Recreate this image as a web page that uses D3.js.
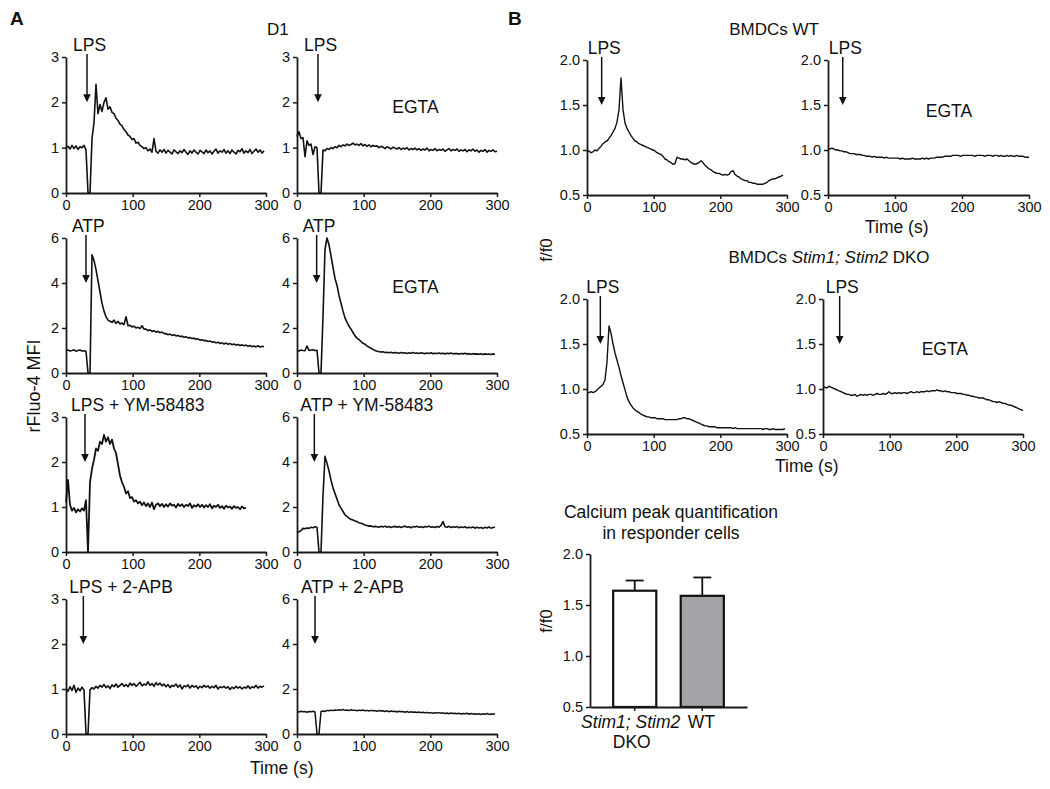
<!DOCTYPE html>
<html><head><meta charset="utf-8">
<script src="https://cdn.jsdelivr.net/npm/d3@7"></script>
<style>
body{margin:0;background:#fff;}
svg{display:block;}
</style></head><body>
<svg id="chart" width="1050" height="789"></svg>
<script>
// ---------------- DATA ----------------
const timeGrid = [0,3,6,9,12,15,18,21,24,27,
30,33,36,39,42,45,48,51,54,57,
60,63,66,69,72,75,78,81,84,87,
90,93,96,99,102,105,108,111,114,117,
120,123,126,129,132,135,138,141,144,147,
150,153,156,159,162,165,168,171,174,177,
180,183,186,189,192,195,198,201,204,207,
210,213,216,219,222,225,228,231,234,237,
240,243,246,249,252,255,258,261,264,267,
270,273,276,279,282,285,288,291,294,297,
300];
const timeTicks = [0,100,200,300];

const lpsD1 = [1.00,1.03,0.97,1.05,0.98,1.04,0.96,1.02,1.00,1.05,
0.95,0,0,1.20,1.55,2.40,1.75,1.95,1.80,2.00,
2.10,1.85,1.90,1.78,1.75,1.65,1.60,1.52,1.48,1.40,
1.35,1.28,1.25,1.18,1.20,1.10,1.12,1.05,1.02,0.98,
1.00,0.93,0.97,0.90,1.20,0.92,0.88,0.95,0.90,0.96,
0.88,0.94,0.90,0.86,0.95,0.91,0.87,0.93,0.89,0.96,
0.90,0.85,0.93,0.88,0.95,0.90,0.86,0.94,0.91,0.87,
0.95,0.89,0.93,0.86,0.92,0.97,0.88,0.93,0.90,0.96,
0.88,0.93,0.87,0.95,0.90,0.86,0.94,0.91,0.98,0.88,
0.93,0.89,0.96,0.87,0.92,0.97,0.90,0.95,0.88,0.93,
null];
const lpsEgtaD1 = [1.25,1.35,1.20,1.22,0.80,1.15,1.05,1.08,0.85,1.02,
1.00,0,0,0.95,0.93,0.98,0.96,1.00,0.98,1.02,
1.00,1.05,1.02,1.06,1.04,1.08,1.05,1.07,1.10,1.06,
1.08,1.05,1.09,1.04,1.07,1.03,1.06,1.02,1.05,1.03,
1.04,1.00,1.03,1.01,0.98,1.02,1.00,0.97,1.01,0.99,
0.97,1.00,0.96,0.99,0.97,1.00,0.95,0.98,0.96,0.99,
0.95,0.98,0.94,0.97,0.95,0.99,0.93,0.96,0.94,0.98,
0.93,0.96,0.94,0.97,0.92,0.95,0.98,0.93,0.96,0.94,
0.97,0.92,0.95,0.93,0.96,0.91,0.95,0.93,0.97,0.92,
0.95,0.90,0.94,0.92,0.96,0.90,0.94,0.92,0.95,0.91,
0.92];
const atpD1 = [1.00,1.02,0.98,1.00,1.03,0.97,1.00,1.02,0.98,0.99,
0.97,0,0,5.25,5.00,4.60,4.10,3.60,3.10,2.75,
2.50,2.35,2.30,2.25,2.35,2.20,2.30,2.18,2.22,2.15,
2.50,2.10,2.12,2.05,2.08,2.00,2.03,1.98,2.10,1.95,
1.95,1.88,1.92,1.85,1.88,1.82,1.85,1.79,1.82,1.76,
1.74,1.70,1.73,1.67,1.70,1.65,1.67,1.62,1.64,1.59,
1.61,1.56,1.58,1.53,1.55,1.50,1.52,1.46,1.48,1.44,
1.45,1.40,1.42,1.37,1.39,1.34,1.37,1.31,1.34,1.29,
1.33,1.28,1.31,1.26,1.29,1.24,1.27,1.22,1.25,1.21,
1.24,1.19,1.22,1.17,1.20,1.16,1.21,1.15,1.19,1.17,
null];
const atpEgtaD1 = [1.00,0.98,1.02,1.00,0.99,1.20,1.00,1.02,1.03,1.00,
1.01,0,0,2.50,5.50,6.00,5.70,5.20,4.70,4.20,
3.90,3.45,3.10,2.75,2.45,2.25,2.08,1.95,1.80,1.65,
1.55,1.48,1.40,1.32,1.28,1.20,1.15,1.10,1.05,1.00,
0.97,0.95,0.93,0.94,0.91,0.92,0.90,0.92,0.89,0.91,
0.90,0.88,0.91,0.89,0.90,0.87,0.90,0.88,0.91,0.88,
0.89,0.87,0.90,0.88,0.86,0.89,0.87,0.90,0.86,0.88,
0.87,0.89,0.86,0.88,0.85,0.88,0.86,0.89,0.85,0.87,
0.86,0.84,0.87,0.85,0.88,0.84,0.86,0.83,0.86,0.84,
0.85,0.83,0.86,0.82,0.85,0.83,0.84,0.82,0.85,0.82,
null];
const lpsYmD1 = [1.10,1.60,1.05,0.92,0.98,0.88,0.95,0.90,0.97,0.92,
1.15,0,1.55,1.85,2.05,2.30,2.25,2.45,2.40,2.60,
2.45,2.55,2.40,2.50,2.30,2.20,1.95,1.70,1.55,1.45,
1.30,1.35,1.20,1.22,1.12,1.15,1.08,1.12,1.04,1.10,
1.02,1.08,1.00,1.10,0.95,1.05,1.08,1.02,1.07,1.00,
1.06,1.01,1.08,1.03,1.05,0.99,1.07,1.02,1.06,1.00,
1.05,1.02,1.08,0.98,1.04,1.01,1.06,1.00,1.05,0.99,
1.04,1.00,1.06,0.97,1.03,1.00,1.05,0.98,1.02,0.96,
1.03,0.99,1.01,0.96,1.02,0.98,1.00,0.95,1.01,0.97,
0.98,null,null,null,null,null,null,null,null,null,
null];
const atpYmD1 = [0.86,0.90,0.95,1.05,1.03,1.07,1.05,1.10,1.08,1.12,
1.10,0,0,2.50,4.25,3.95,3.60,3.20,2.85,2.60,
2.35,2.10,1.95,1.80,1.65,1.58,1.50,1.45,1.42,1.38,
1.35,1.30,1.28,1.24,1.20,1.18,1.15,1.16,1.12,1.14,
1.12,1.10,1.14,1.11,1.15,1.10,1.13,1.09,1.12,1.14,
1.10,1.13,1.09,1.12,1.15,1.10,1.12,1.08,1.13,1.11,
1.14,1.10,1.12,1.09,1.13,1.11,1.15,1.10,1.12,1.09,
1.13,1.10,1.18,1.35,1.12,1.10,1.14,1.09,1.12,1.10,
1.13,1.08,1.11,1.09,1.12,1.07,1.10,1.08,1.11,1.06,
1.10,1.07,1.09,1.05,1.10,1.07,1.11,1.06,1.09,1.10,
null];
const lps2apbD1 = [1.00,0.95,1.05,0.97,1.08,0.93,1.02,0.96,1.04,0.98,
0,0,0.98,1.03,1.00,1.06,1.02,1.08,1.04,1.10,
1.03,1.07,1.01,1.09,1.05,1.11,1.04,1.08,1.12,1.06,
1.10,1.05,1.13,1.08,1.12,1.06,1.10,1.15,1.07,1.11,
1.09,1.16,1.08,1.12,1.06,1.14,1.09,1.13,1.07,1.11,
1.05,1.10,1.03,1.08,1.06,1.11,1.04,1.09,1.00,1.07,
1.05,1.09,1.02,1.08,1.04,1.07,1.01,1.06,1.03,1.08,
1.04,1.07,1.02,1.06,1.03,1.08,1.00,1.05,1.03,1.06,
1.02,1.05,0.99,1.04,1.01,1.06,1.02,1.05,1.00,1.04,
1.02,1.07,1.01,1.05,1.03,1.08,1.02,1.06,1.04,1.07,
null];
const atp2apbD1 = [1.00,0.98,1.01,0.99,1.00,0.97,1.00,0.99,1.01,0.98,
0,0,1.00,1.02,1.00,1.05,1.03,1.06,1.04,1.07,
1.05,1.08,1.06,1.09,1.05,1.07,1.04,1.08,1.05,1.06,
1.03,1.06,1.04,1.07,1.03,1.05,1.02,1.05,1.03,1.04,
1.01,1.04,1.02,1.03,1.00,1.03,0.99,1.02,1.00,1.01,
0.98,1.01,0.99,1.00,0.97,1.00,0.96,0.99,0.97,0.98,
0.96,0.98,0.95,0.97,0.94,0.96,0.93,0.95,0.92,0.95,
0.93,0.95,0.92,0.94,0.91,0.93,0.90,0.93,0.91,0.92,
0.90,0.92,0.89,0.91,0.90,0.92,0.88,0.91,0.89,0.90,
0.88,0.90,0.87,0.90,0.88,0.91,0.87,0.89,0.88,0.90,
null];

const wtLps = [0.98,0.99,0.97,0.98,1.00,0.99,1.02,1.04,1.07,1.09,
1.10,1.13,1.16,1.20,1.24,1.31,1.45,1.80,1.45,1.30,
1.24,1.20,1.16,1.13,1.10,1.09,1.07,1.06,1.05,1.04,
1.03,1.02,1.01,1.00,0.99,0.97,0.96,0.95,0.93,0.90,
0.89,0.87,0.86,0.84,0.85,0.92,0.91,0.90,0.90,0.89,
0.90,0.88,0.86,0.85,0.84,0.85,0.86,0.88,0.86,0.83,
0.81,0.79,0.78,0.76,0.75,0.74,0.74,0.73,0.72,0.73,
0.72,0.73,0.76,0.77,0.73,0.71,0.70,0.68,0.67,0.66,
0.66,0.64,0.64,0.63,0.63,0.62,0.62,0.62,0.62,0.63,
0.64,0.66,0.67,0.68,0.68,0.69,0.70,0.71,0.72,null,
null];
const wtEgta = [1.02,1.01,1.02,1.01,1.00,1.00,0.99,0.99,0.98,0.98,
0.97,0.96,0.96,0.96,0.95,0.95,0.95,0.94,0.94,0.93,
0.93,0.93,0.92,0.93,0.92,0.92,0.92,0.92,0.91,0.92,
0.91,0.91,0.91,0.91,0.91,0.91,0.90,0.91,0.90,0.90,
0.90,0.90,0.91,0.90,0.90,0.90,0.90,0.91,0.90,0.91,
0.90,0.91,0.91,0.91,0.92,0.92,0.92,0.92,0.93,0.93,
0.93,0.93,0.94,0.94,0.94,0.94,0.93,0.94,0.94,0.94,
0.94,0.94,0.94,0.93,0.94,0.94,0.94,0.94,0.93,0.94,
0.94,0.94,0.93,0.94,0.94,0.93,0.94,0.93,0.93,0.94,
0.93,0.94,0.93,0.93,0.94,0.93,0.93,0.93,0.92,0.92,
0.92];
const dkoLps = [0.96,0.96,0.97,0.96,0.97,0.99,1.01,1.03,1.05,1.10,
1.30,1.70,1.62,1.50,1.40,1.32,1.24,1.15,1.07,0.99,
0.91,0.86,0.82,0.79,0.77,0.75,0.74,0.72,0.71,0.70,
0.69,0.69,0.68,0.68,0.68,0.67,0.67,0.67,0.67,0.66,
0.66,0.66,0.66,0.66,0.66,0.66,0.67,0.67,0.68,0.68,
0.67,0.67,0.66,0.65,0.64,0.63,0.62,0.61,0.60,0.59,
0.59,0.58,0.58,0.58,0.58,0.57,0.57,0.57,0.57,0.57,
0.57,0.57,0.57,0.56,0.57,0.56,0.56,0.56,0.56,0.56,
0.56,0.56,0.56,0.56,0.56,0.56,0.56,0.56,0.55,0.56,
0.56,0.55,0.55,0.56,0.55,0.55,0.55,0.55,0.55,0.56,
null];
const dkoEgta = [1.01,1.02,1.01,1.03,1.02,1.01,1.00,0.99,0.98,0.97,
0.96,0.95,0.94,0.94,0.93,0.93,0.94,0.92,0.93,0.94,
0.93,0.94,0.93,0.94,0.94,0.93,0.94,0.95,0.94,0.94,
0.95,0.94,0.95,0.97,0.95,0.95,0.96,0.95,0.96,0.95,
0.96,0.96,0.95,0.96,0.97,0.96,0.96,0.97,0.96,0.97,
0.97,0.97,0.98,0.97,0.98,0.98,0.98,0.99,0.98,0.98,
0.97,0.98,0.97,0.97,0.96,0.96,0.96,0.95,0.95,0.95,
0.94,0.94,0.93,0.93,0.92,0.92,0.91,0.91,0.90,0.90,
0.90,0.89,0.88,0.88,0.87,0.86,0.86,0.85,0.86,0.85,
0.84,0.84,0.83,0.82,0.82,0.81,0.80,0.79,0.78,0.77,
0.76];

const barCategories = ["Stim1; Stim2 DKO", "WT"];
const barMeans = [1.64, 1.59];
const barErrors = [0.10, 0.18];
const barTicks = [0.5, 1.0, 1.5, 2.0];

// ---------------- DRAW ----------------
const FONT = '"Liberation Sans", Arial, Helvetica, sans-serif';
const INK = "#111";
const svg = d3.select("#chart").style("font-family", FONT);

function styleAxis(g) {
  g.selectAll(".domain").attr("stroke", "#1a1a1a").attr("stroke-width", 1.8);
  g.selectAll(".tick line").attr("stroke", "#1a1a1a").attr("stroke-width", 1.5);
  g.selectAll(".tick text").attr("fill", INK).style("font-size", "14.5px").style("font-family", FONT);
}
function txt(x, y, s, size, opts = {}) {
  const t = svg.append("text").attr("x", x).attr("y", y).attr("fill", INK)
    .style("font-size", size + "px").style("font-family", FONT)
    .attr("text-anchor", opts.anchor || "start");
  if (opts.bold) t.style("font-weight", "bold");
  if (opts.rotate) t.attr("transform", `rotate(-90,${x},${y})`);
  if (s !== null) t.text(s);
  return t;
}

const A3 = {dom: [0, 3], ticks: [0, 1, 2, 3], fmt: "d"};
const A6 = {dom: [0, 6], ticks: [0, 2, 4, 6], fmt: "d"};
const BS = {dom: [0.5, 2.0], ticks: [0.5, 1.0, 1.5, 2.0], fmt: ".1f"};

const panels = [
  {x0: 66, x1: 266, y0: 57, y1: 193, s: A3, v: lpsD1, label: "LPS", aT: 31.5, aV: 2, w: 1.6},
  {x0: 297, x1: 497, y0: 57, y1: 193, s: A3, v: lpsEgtaD1, label: "LPS", aT: 31.5, aV: 2, note: [143, 1.76], w: 1.6},
  {x0: 66, x1: 266, y0: 238, y1: 373, s: A6, v: atpD1, label: "ATP", aT: 30, aV: 4, w: 1.6},
  {x0: 297, x1: 497, y0: 238, y1: 373, s: A6, v: atpEgtaD1, label: "ATP", aT: 29.5, aV: 4, note: [143, 3.55], w: 1.6},
  {x0: 66, x1: 266, y0: 417, y1: 552, s: A3, v: lpsYmD1, label: "LPS + YM-58483", aT: 28.5, aV: 2, w: 1.8},
  {x0: 297, x1: 497, y0: 417, y1: 552, s: A6, v: atpYmD1, label: "ATP + YM-58483", aT: 26, aV: 4, w: 1.6},
  {x0: 66, x1: 266, y0: 599, y1: 734, s: A3, v: lps2apbD1, label: "LPS + 2-APB", aT: 26, aV: 2, w: 1.6},
  {x0: 297, x1: 497, y0: 599, y1: 734, s: A6, v: atp2apbD1, label: "ATP + 2-APB", aT: 27, aV: 4, w: 1.5},
  {x0: 587, x1: 787, y0: 60, y1: 195, s: BS, v: wtLps, label: "LPS", aT: 22, aV: 1.5, w: 1.4},
  {x0: 828, x1: 1029, y0: 60, y1: 195, s: BS, v: wtEgta, label: "LPS", aT: 22, aV: 1.5, note: [146, 1.37], w: 1.4},
  {x0: 587, x1: 787, y0: 299, y1: 434, s: BS, v: dkoLps, label: "LPS", aT: 20, aV: 1.5, w: 1.4},
  {x0: 823, x1: 1023, y0: 299, y1: 434, s: BS, v: dkoEgta, label: "LPS", aT: 25, aV: 1.5, note: [148, 1.38], w: 1.4}
];

panels.forEach(p => {
  const x = d3.scaleLinear().domain([0, 300]).range([p.x0, p.x1]);
  const y = d3.scaleLinear().domain(p.s.dom).range([p.y1, p.y0]);
  const gx = svg.append("g").attr("transform", `translate(0,${p.y1})`)
    .call(d3.axisBottom(x).tickValues(timeTicks).tickSize(4).tickSizeOuter(0).tickPadding(3));
  styleAxis(gx);
  const gy = svg.append("g").attr("transform", `translate(${p.x0},0)`)
    .call(d3.axisLeft(y).tickValues(p.s.ticks).tickFormat(d3.format(p.s.fmt)).tickSize(4).tickSizeOuter(0).tickPadding(3));
  styleAxis(gy);
  const line = d3.line().defined(d => d[1] !== null && d[1] !== undefined)
    .x(d => x(d[0])).y(d => y(d[1]));
  svg.append("path").datum(d3.zip(timeGrid, p.v)).attr("d", line)
    .attr("fill", "none").attr("stroke", INK).attr("stroke-width", p.w)
    .attr("stroke-linejoin", "round");
  // stimulus arrow
  const ax = x(p.aT), top = y(p.s.dom[1]) - 3, tip = y(p.aV);
  svg.append("line").attr("x1", ax).attr("x2", ax).attr("y1", top).attr("y2", tip - 6)
    .attr("stroke", INK).attr("stroke-width", 1.5);
  svg.append("path").attr("d", `M${ax - 3.8},${tip - 8}L${ax + 3.8},${tip - 8}L${ax},${tip}Z`).attr("fill", INK);
  txt(ax - 14, y(p.s.dom[1]) - 6, p.label, 17.5);
  if (p.note) txt(x(p.note[0]), y(p.note[1]), "EGTA", 17.5);
});

// Panel letters and titles
txt(10, 25, "A", 19, {bold: true});
txt(508, 25, "B", 19, {bold: true});
txt(267, 35, "D1", 17);
txt(774, 35, "BMDCs WT", 17, {anchor: "middle"});
const t2 = txt(829, 263, null, 17, {anchor: "middle"});
t2.append("tspan").text("BMDCs ");
t2.append("tspan").style("font-style", "italic").text("Stim1; Stim2");
t2.append("tspan").text(" DKO");

// axis titles
txt(250, 774, "Time (s)", 17.5);
txt(865, 233, "Time (s)", 17.5);
txt(775, 472, "Time (s)", 17.5);
txt(34, 386, "rFluo-4 MFI", 18, {anchor: "middle", rotate: true}).attr("dy", "0.35em");
txt(546, 250, "f/f0", 17, {anchor: "middle", rotate: true}).attr("dy", "0.35em");
txt(546, 621, "f/f0", 17, {anchor: "middle", rotate: true}).attr("dy", "0.35em");

// ---------------- BAR CHART ----------------
const xb = d3.scaleBand().domain(barCategories).range([590, 747]).paddingInner(0.362).paddingOuter(0.343);
const yb = d3.scaleLinear().domain([0.5, 2.0]).range([707, 554]);
const bars = barCategories.map((c, i) => ({c, m: barMeans[i], e: barErrors[i], i}));
const barFill = ["#ffffff", "#a3a3a7"];

const bg = svg.append("g");
bars.forEach(d => {
  const cx = xb(d.c) + xb.bandwidth() / 2;
  bg.append("line").attr("x1", cx).attr("x2", cx).attr("y1", yb(d.m)).attr("y2", yb(d.m + d.e))
    .attr("stroke", INK).attr("stroke-width", 1.8);
  bg.append("line").attr("x1", cx - 9).attr("x2", cx + 9).attr("y1", yb(d.m + d.e)).attr("y2", yb(d.m + d.e))
    .attr("stroke", INK).attr("stroke-width", 1.8);
  bg.append("rect").attr("x", xb(d.c)).attr("width", xb.bandwidth())
    .attr("y", yb(d.m)).attr("height", yb(0.5) - yb(d.m))
    .attr("fill", barFill[d.i]).attr("stroke", INK).attr("stroke-width", 2.2);
});
const gbx = svg.append("g").attr("transform", "translate(0,707)")
  .call(d3.axisBottom(xb).tickSize(4).tickSizeOuter(0).tickFormat(""));
styleAxis(gbx);
const gby = svg.append("g").attr("transform", "translate(590,0)")
  .call(d3.axisLeft(yb).tickValues(barTicks).tickFormat(d3.format(".1f")).tickSize(4).tickSizeOuter(0).tickPadding(3));
styleAxis(gby);

// category labels
const c1 = xb(barCategories[0]) + xb.bandwidth() / 2;
const c2 = xb(barCategories[1]) + xb.bandwidth() / 2;
txt(c1 - 4, 728, null, 17.5, {anchor: "middle"}).append("tspan").style("font-style", "italic").text("Stim1; Stim2");
txt(c1 - 3, 748, "DKO", 17.5, {anchor: "middle"});
txt(c2 - 1, 728, "WT", 17.5, {anchor: "middle"});

txt(671, 518, "Calcium peak quantification", 17.5, {anchor: "middle"});
txt(671, 539, "in responder cells", 17.5, {anchor: "middle"});
</script>
</body></html>
